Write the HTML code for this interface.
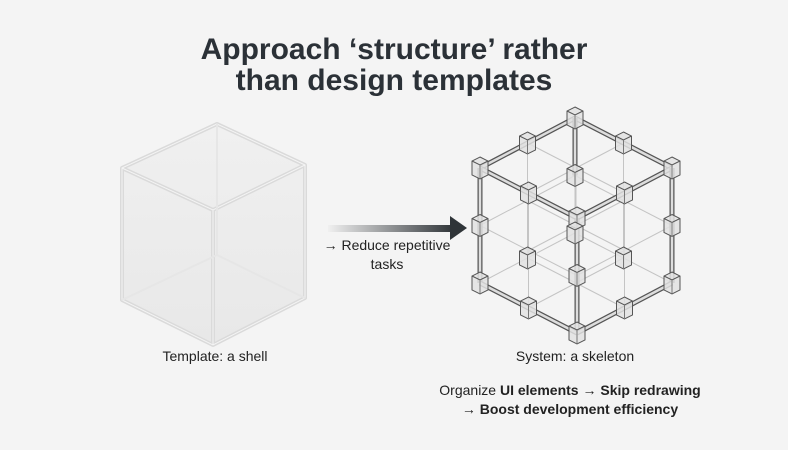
<!DOCTYPE html>
<html><head><meta charset="utf-8"><style>
body{margin:0;width:788px;height:450px;background:#f4f4f4;overflow:hidden;font-family:"Liberation Sans",sans-serif;position:relative}
.t{position:absolute;left:0;width:788px;text-align:center;font-weight:bold;font-size:30px;color:#2b3137;line-height:32px}
.l{position:absolute;font-size:14px;color:#222;text-align:center}
</style></head><body>
<div class="t" style="top:34px">Approach ‘structure’ rather</div>
<div class="t" style="top:65px">than design templates</div>
<svg width="788" height="450" style="position:absolute;left:0;top:0">
<defs><linearGradient id="g" x1="0" x2="1"><stop offset="0" stop-color="#f0f0f0"/><stop offset="1" stop-color="#2f3438"/></linearGradient>
<linearGradient id="cf" x1="0" y1="0" x2="0" y2="1"><stop offset="0" stop-color="#f0f0f0"/><stop offset="1" stop-color="#e8e8e8"/></linearGradient></defs>
<g stroke="#dadada" stroke-width="4" fill="url(#cf)" stroke-linejoin="round">
<polygon points="217,124 122,168 122,300 213,345 305,298 305,165"/>
<polyline fill="none" points="122,168 213,210 305,165"/>
<line x1="213" y1="210" x2="213" y2="345"/>
</g>
<g stroke="#f4f4f4" stroke-width="1" fill="none">
<polygon points="217,124 122,168 122,300 213,345 305,298 305,165"/>
<polyline points="122,168 213,210 305,165"/>
<line x1="213" y1="210" x2="213" y2="345"/></g>
<g stroke="#e6e6e6" stroke-width="2" fill="none"><polyline points="122,300 217,255 305,298"/><line x1="217" y1="124" x2="217" y2="255"/></g>
<rect x="328" y="225" width="126" height="7" fill="url(#g)"/>
<polygon points="450,216 467,228 450,240" fill="#2f3438"/>
<g id="cube"></g>
</svg>
<div class="l" style="left:320px;top:236px;width:134px;line-height:19px">→ Reduce repetitive<br>tasks</div>
<div class="l" style="left:110px;top:348px;width:210px">Template: a shell</div>
<div class="l" style="left:470px;top:348px;width:210px">System: a skeleton</div>
<div class="l" style="left:400px;top:381px;width:340px;line-height:19px">Organize <b>UI elements</b> → <b>Skip redrawing</b><br>→ <b>Boost development efficiency</b></div>
<script>
var T=[575,118],A=[-95,50],B=[97,50],C=[0,115];
function P(a,b,c){return [T[0]+a*A[0]+b*B[0]+c*C[0],T[1]+a*A[1]+b*B[1]+c*C[1]];}
var s='';
function ln(p,q,w,col){s+='<line x1="'+p[0]+'" y1="'+p[1]+'" x2="'+q[0]+'" y2="'+q[1]+'" stroke="'+col+'" stroke-width="'+w+'"/>';}
var v=[0,.5,1];
for(var i=0;i<3;i++)for(var j=0;j<3;j++){ln(P(v[i],v[j],0),P(v[i],v[j],1),1,'#c4c4c4');ln(P(v[i],0,v[j]),P(v[i],1,v[j]),1,'#c4c4c4');ln(P(0,v[i],v[j]),P(1,v[i],v[j]),1,'#c4c4c4');}
var E=[[[0,0,0],[1,0,0]],[[0,0,0],[0,1,0]],[[1,0,0],[1,1,0]],[[0,1,0],[1,1,0]],[[1,0,0],[1,0,1]],[[0,1,0],[0,1,1]],[[1,1,0],[1,1,1]],[[1,0,1],[1,1,1]],[[0,1,1],[1,1,1]],[[0,0,0],[0,0,.5]]];
E.forEach(function(e){var p=P.apply(0,e[0]),q=P.apply(0,e[1]);ln(p,q,5,'#555');ln(p,q,2.5,'#ddd');});
var pts=[];
for(var a=0;a<3;a++)for(var b=0;b<3;b++)for(var c=0;c<3;c++){var n=(a==1)+(b==1)+(c==1);if(n<=1)pts.push(P(v[a],v[b],v[c]));}
pts.sort(function(x,y){return x[1]-y[1];});
pts.forEach(function(p){var r=8;s+='<polygon points="'+p[0]+','+(p[1]-r-3)+' '+(p[0]+r)+','+(p[1]-r+1)+' '+(p[0]+r)+','+(p[1]+r-1)+' '+p[0]+','+(p[1]+r+3)+' '+(p[0]-r)+','+(p[1]+r-1)+' '+(p[0]-r)+','+(p[1]-r+1)+'" fill="#e2e2e2" fill-opacity=".85" stroke="#555" stroke-width="1"/>'+'<polyline points="'+(p[0]-r)+','+(p[1]-r+1)+' '+p[0]+','+(p[1]-r+5)+' '+(p[0]+r)+','+(p[1]-r+1)+'" fill="none" stroke="#555" stroke-width="1"/><line x1="'+p[0]+'" y1="'+(p[1]-r+5)+'" x2="'+p[0]+'" y2="'+(p[1]+r+3)+'" stroke="#777" stroke-width="1"/>';});
document.getElementById('cube').innerHTML=s;
</script>
</body></html>
